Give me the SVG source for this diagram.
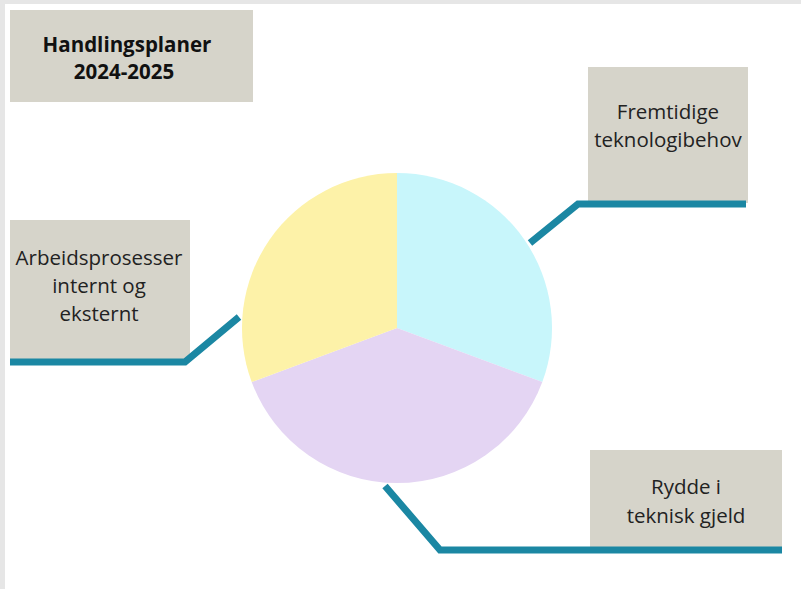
<svg xmlns="http://www.w3.org/2000/svg" width="801" height="589" viewBox="0 0 801 589">
<style>
.box{fill:#d6d4ca}
.t{font-family:"Open Sans","Noto Sans","Liberation Sans",sans-serif;font-size:20.5px;fill:#222;text-anchor:middle}
.b{font-weight:bold;font-size:20.5px;fill:#111}
.c{fill:none;stroke:#1b87a3;stroke-width:7;stroke-linejoin:miter}
</style>
<rect width="801" height="589" fill="#ffffff"/>
<rect x="0" y="0" width="801" height="4" fill="#e6e6e6"/>
<rect x="0" y="0" width="5" height="589" fill="#e6e6e6"/>
<g id="pie">
<path d="M397,328 L397,173 A155,155 0 0 1 542.3,382 Z" fill="#c8f6fb"/>
<path d="M397,328 L542.3,382 A155,155 0 0 1 251.7,382 Z" fill="#e4d5f3"/>
<path d="M397,328 L251.7,382 A155,155 0 0 1 397,173 Z" fill="#fdf2a8"/>
</g>
<g id="title">
<rect class="box" x="10" y="10" width="243" height="92"/>
<text class="t b" x="127" y="52">Handlingsplaner</text>
<text class="t b" x="124" y="79">2024-2025</text>
</g>
<g id="node-fremtidige">
<rect class="box" x="588" y="67" width="160" height="136"/>
<text class="t" x="668" y="119">Fremtidige</text>
<text class="t" x="668" y="147">teknologibehov</text>
</g>
<g id="node-arbeid">
<rect class="box" x="10" y="220" width="180" height="141"/>
<text class="t" x="99" y="265">Arbeidsprosesser</text>
<text class="t" x="99" y="293">internt og</text>
<text class="t" x="99" y="321">eksternt</text>
</g>
<g id="node-rydde">
<rect class="box" x="590" y="450" width="192" height="100"/>
<text class="t" x="686" y="494">Rydde i</text>
<text class="t" x="686" y="523">teknisk gjeld</text>
</g>
<g id="connectors">
<polyline class="c" points="530,243 578,204 746,204"/>
<polyline class="c" points="239,317 185,362 10,362"/>
<polyline class="c" points="385,486 440,550 782,550"/>
</g>
</svg>
